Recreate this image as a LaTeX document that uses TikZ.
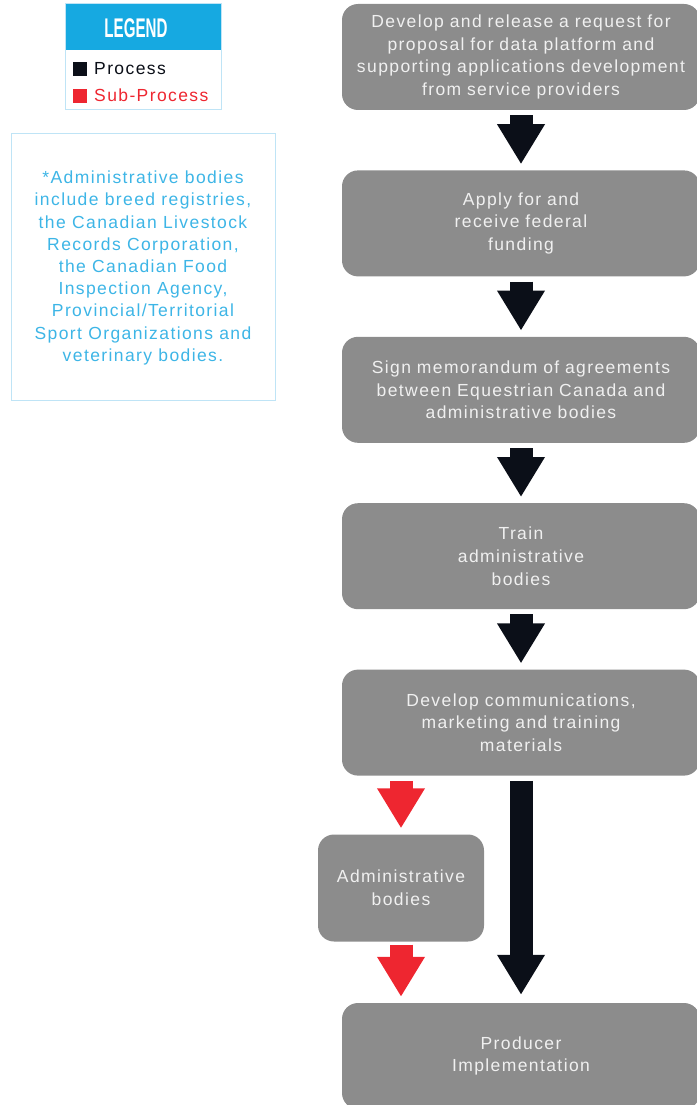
\documentclass[tikz,border=0pt]{standalone}
\usepackage{fontspec}
\setmainfont{Liberation Sans}[LetterSpace=8]
\usepackage{graphicx}
\usetikzlibrary{positioning, arrows.meta}

\definecolor{boxgrey}{HTML}{8C8C8C}
\definecolor{arrowblack}{HTML}{0B0F18}
\definecolor{subred}{HTML}{EE2630}
\definecolor{legendblue}{HTML}{16A9E1}
\definecolor{notecyan}{HTML}{3DB5E6}
\definecolor{paleblue}{HTML}{BFE4F6}

\begin{document}
\begin{tikzpicture}[
    x=1pt, y=-1pt,
    node distance=60pt,
    process/.style={rectangle, rounded corners=16pt, fill=boxgrey, minimum width=358pt, minimum height=106pt, text width=350pt, inner sep=0pt, align=center, text=white!94!black, font=\fontsize{17.5}{22.6}\selectfont},
    subprocess/.style={process, minimum width=166pt, minimum height=107pt, text width=162pt},
    flow/.style={line width=23pt, arrowblack, -{Triangle[width=45pt,length=40pt]}, shorten <=5pt, shorten >=6pt},
    subflow/.style={flow, subred},
    legendbox/.style={draw=paleblue, line width=1pt},
    swatch/.style={minimum size=14pt, inner sep=0pt},
    legendtext/.style={anchor=base west, inner sep=0pt, font=\fontsize{17.5}{22}\selectfont}
]
\useasboundingbox (0,0) rectangle (696,1105);

% legend
\fill[legendblue] (65,4) rectangle (221,50);
\draw[legendbox] (65,4) rectangle (221,110);
\node[text=white, font=\bfseries\fontsize{27}{27}\selectfont\addfontfeatures{LetterSpace=0}] (legendtitle) at (136,28) {\scalebox{0.56}[1]{LEGEND}};
\node[swatch, fill=arrowblack] (procswatch) at (80,69) {};
\node[swatch, fill=subred] (subswatch) at (80,96) {};
\node[legendtext, text=arrowblack] (proctext) at (94,75) {Process};
\node[legendtext, text=subred] (subtext) at (94,102) {Sub-Process};

% note
\draw[legendbox] (11,134) rectangle (275,400);
\node[text=notecyan, align=center, font=\fontsize{17.5}{22.2}\selectfont] (note) at (143,268) {*Administrative bodies\\include breed registries,\\the Canadian Livestock\\Records Corporation,\\the Canadian Food\\Inspection Agency,\\Provincial/Territorial\\Sport Organizations and\\veterinary bodies.};

% flow
\node[process] (rfp) at (521,57) {Develop and release a request for\\proposal for data platform and\\supporting applications development\\from service providers};
\node[process, below=of rfp] (funding) {Apply for and\\receive federal\\funding};
\node[process, below=of funding] (memo) {Sign memorandum of agreements\\between Equestrian Canada and\\administrative bodies};
\node[process, below=of memo] (train) {Train\\administrative\\bodies};
\node[process, below=of train] (comms) {Develop communications,\\marketing and training\\materials};
\node[subprocess] (admin) at (401,888) {Administrative\\bodies};
\node[process] (producer) at (521,1056) {Producer\\Implementation};

\draw[flow] (rfp) -- (funding);
\draw[flow] (funding) -- (memo);
\draw[flow] (memo) -- (train);
\draw[flow] (train) -- (comms);
\draw[flow, shorten >=8pt] (comms) -- (producer);
\draw[subflow] (comms.south -| admin.north) -- (admin.north);
\draw[subflow, shorten <=3pt] (admin) -- (producer.north -| admin.south);

\end{tikzpicture}
\end{document}
